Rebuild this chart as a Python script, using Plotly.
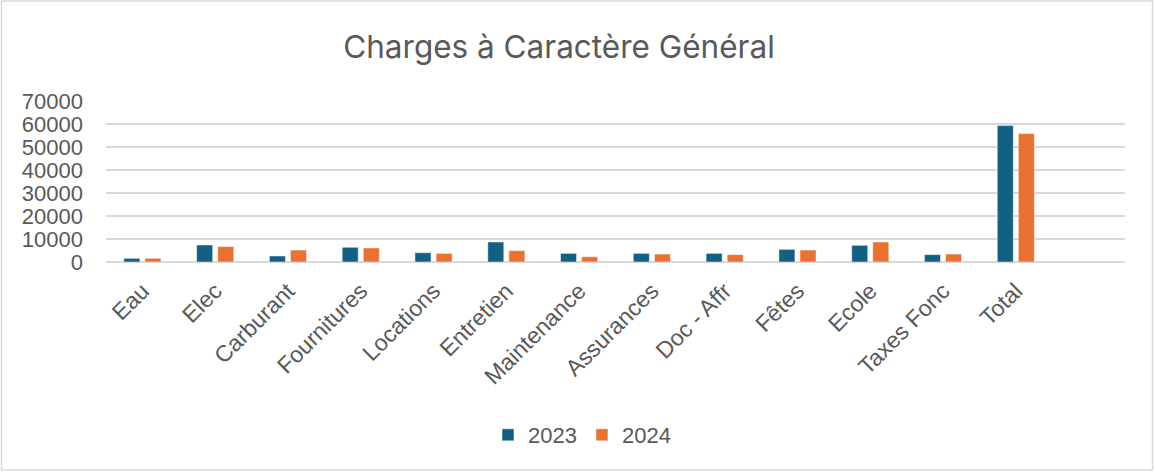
from plotly import graph_objects as go

# data
categories = ["Eau", "Elec", "Carburant", "Fournitures", "Locations", "Entretien",
              "Maintenance", "Assurances", "Doc - Affr", "Fêtes", "Ecole",
              "Taxes Fonc", "Total"]
values_2023 = [1600, 7400, 2600, 6400, 4050, 8700, 3750, 3750, 3750, 5500, 7250, 3200, 59300]
values_2024 = [1600, 6700, 5200, 6100, 3750, 4950, 2300, 3450, 3200, 5200, 8700, 3450, 55850]
y_ticks = [0, 10000, 20000, 30000, 40000, 50000, 60000, 70000]
y_tick_labels = [str(v) for v in y_ticks]

palette = {
    "cat_0": "#156082",
    "cat_1": "#E97132",
    "font": "#595959",
    "grid": "#D9D9D9",
}

W, H = 1155, 472
M = dict(l=106, r=30, t=101, b=210)
axis_font = "Liberation Sans, Arial, sans-serif"

fig = go.Figure()
for c, (name, vals) in enumerate([("2023", values_2023), ("2024", values_2024)]):
    fig.add_trace(go.Bar(
        x=categories,
        y=vals,
        name=name,
        marker=dict(color=palette[f"cat_{c}"], line=dict(color="rgba(255,255,255,0.6)", width=0.8)),
    ))

pw = W - M["l"] - M["r"]
ph = H - M["t"] - M["b"]

fig.update_layout(
    width=W, height=H,
    margin=dict(**M, autoexpand=False),
    plot_bgcolor="white",
    paper_bgcolor="white",
    font=dict(family=axis_font, color=palette["font"], size=22),
    title=dict(text="Charges à Caractère Général", x=559 / W, xanchor="center",
               y=1 - 47 / H, yanchor="middle", automargin=False,
               font=dict(family="Inter, sans-serif", size=31.5, color=palette["font"])),
    barmode="group",
    bargap=0.42,
    bargroupgap=0.24,
    showlegend=True,
    legend=dict(orientation="h", x=(582 - M["l"]) / pw, xanchor="center",
                y=-(435 - 262) / ph, yanchor="middle",
                font=dict(size=22), itemwidth=30, traceorder="normal"),
    xaxis=dict(
        categoryorder="array", categoryarray=categories + [" "],
        range=[-0.5, 13.5], tickangle=-45, showgrid=False, ticks="",
        showline=False, zeroline=False, tickfont=dict(size=23),
        automargin=False, ticklabelstandoff=10,
    ),
    yaxis=dict(
        range=[0, 70000], tickvals=y_ticks, ticktext=y_tick_labels,
        showgrid=True, gridcolor=palette["grid"],
        gridwidth=1.5, zeroline=True, zerolinecolor=palette["grid"], zerolinewidth=1.5,
        tickfont=dict(size=22), ticks="", ticklabelstandoff=22, showline=False,
        automargin=False,
    ),
    shapes=[dict(
        type="rect", xref="paper", yref="paper",
        x0=-(M["l"] - 1.5) / pw, x1=1 + (M["r"] - 2.5) / pw,
        y0=-(M["b"] - 2) / ph, y1=1 + (M["t"] - 1) / ph,
        line=dict(color="#D9D9D9", width=1.5), fillcolor="rgba(0,0,0,0)", layer="below",
    )],
)

# drop the browser's default body margin so the figure sits at the page origin
fig.write_html("out.html", config={"displayModeBar": False},
               post_script="document.body.style.margin='0px';")
